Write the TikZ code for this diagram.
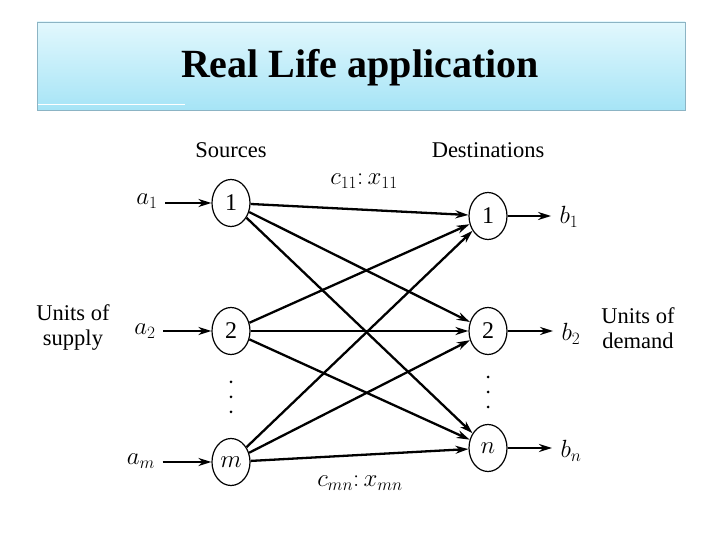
\documentclass[tikz,border=0pt]{standalone}
\usepackage{fontspec}
\setmainfont{Liberation Serif}
\usetikzlibrary{arrows.meta,shapes.geometric}
\definecolor{titletop}{HTML}{E2F8FD}
\definecolor{titlebot}{HTML}{A6E4F6}
\definecolor{titleedge}{HTML}{8CB4C4}

\begin{document}
\begin{tikzpicture}[x=1pt,y=1pt]
  \tikzset{
    place/.style={draw=black, line width=1.2pt, ellipse, minimum width=38pt,
      minimum height=47pt, inner sep=0pt, font=\fontsize{24}{26}\selectfont},
    flow/.style={line width=2.3pt, -{Stealth[length=13pt,width=8pt]}},
    lbl/.style={font=\fontsize{22.5}{25}\selectfont},
    mlbl/.style={font=\fontsize{25}{27}\selectfont},
    dotmark/.style={circle, fill=black, inner sep=0pt, minimum size=3pt}
  }
  \useasboundingbox (0,0) rectangle (720,540);

  % title banner
  \shade[top color=titletop, bottom color=titlebot, draw=titleedge, line width=0.8pt]
    (37,518) rectangle (685,430);
  \draw[white, line width=1pt] (38,435) -- (185,435);
  \node[font=\fontsize{40}{44}\selectfont\bfseries] (title) at (360,472) {Real Life application};

  % sources and destinations
  \node[lbl] (srclbl) at (231,390) {Sources};
  \node[lbl] (dstlbl) at (488,390) {Destinations};

  \node[place] (s1) at (231,337) {1};
  \node[place] (s2) at (231,209) {2};
  \node[place] (sm) at (231,78) {$m$};

  \node[place] (d1) at (488,324) {1};
  \node[place] (d2) at (488,209) {2};
  \node[place] (dn) at (488,92) {$n$};

  % supply side
  \node[mlbl] (a1) at (147,339) {$a_1$};
  \node[mlbl] (a2) at (145,209) {$a_2$};
  \node[mlbl] (am) at (141,79) {$a_m$};
  \draw[flow] ([xshift=4pt]a1.east |- s1) -- (s1);
  \draw[flow] ([xshift=4pt]a2.east |- s2) -- (s2);
  \draw[flow] ([xshift=4pt]am.east |- sm) -- (sm);

  % demand side
  \node[mlbl] (b1) at (569,323) {$b_1$};
  \node[mlbl] (b2) at (571,206) {$b_2$};
  \node[mlbl] (bn) at (571,89) {$b_n$};
  \draw[flow] (d1) -- ([xshift=-5pt]b1.west |- d1);
  \draw[flow] (d2) -- ([xshift=-5pt]b2.west |- d2);
  \draw[flow] (dn) -- ([xshift=-5pt]bn.west |- dn);

  % routes
  \foreach \s in {s1,s2,sm}
    \foreach \d in {d1,d2,dn}
      \draw[flow] (\s) -- (\d);

  \node[mlbl] (c11) at (364,359) {$c_{11}{:}\,x_{11}$};
  \node[mlbl] (cmn) at (360,57) {$c_{mn}{:}\,x_{mn}$};

  % vertical dots
  \foreach \y in {158,143,128}
    \node[dotmark] (sdot\y) at (231,\y) {};
  \foreach \y in {163,148,133}
    \node[dotmark] (ddot\y) at (488,\y) {};

  \node[lbl, align=center] (supply) at (73,212) {Units of\\supply};
  \node[lbl, align=center] (demand) at (638,212) {Units of\\demand};
\end{tikzpicture}
\end{document}
